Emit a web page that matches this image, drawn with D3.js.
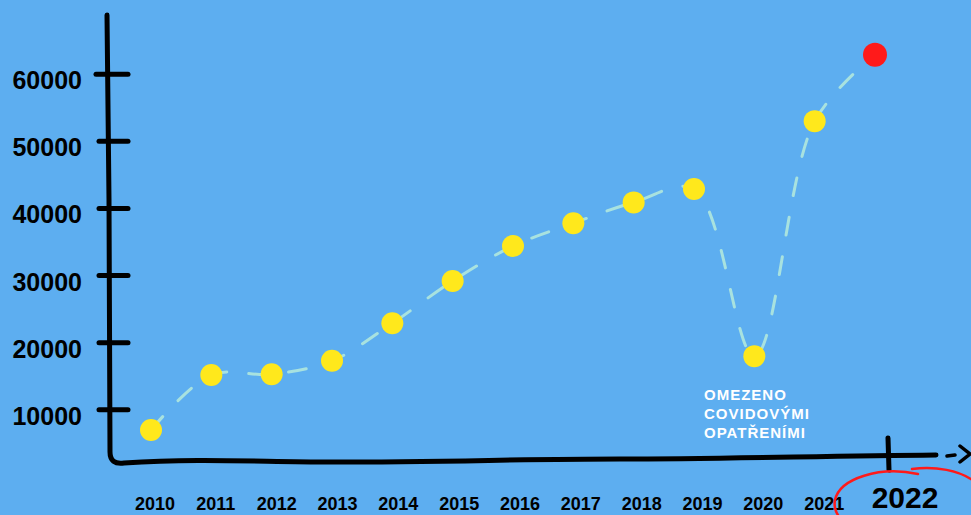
<!DOCTYPE html>
<html><head><meta charset="utf-8">
<script src="https://cdn.jsdelivr.net/npm/d3@7"></script>
<style>
html,body{margin:0;padding:0;background:#5daef0;overflow:hidden;}
svg{display:block;}
</style></head>
<body><div id="chart"></div>
<script>
const years = ["2010","2011","2012","2013","2014","2015","2016","2017","2018","2019","2020","2021","2022"];
const values = [7000,15200,15300,17300,22900,29200,34400,37800,40900,42900,18000,53000,62900];
const yTicks = [10000,20000,30000,40000,50000,60000];
const noteLines = ["OMEZENO","COVIDOVÝMI","OPATŘENÍMI"];

const W = 971, H = 515;
const svg = d3.select("#chart").append("svg").attr("width", W).attr("height", H);
svg.append("rect").attr("width", W).attr("height", H).attr("fill", "#5daef0");

const x = d3.scalePoint().domain(years).range([151, 875]);
const y = d3.scaleLinear().domain([0, 70000]).range([477, 7]);

const font = "'Liberation Sans Narrow','Liberation Sans',Arial,sans-serif";

// axes (hand-drawn look)
svg.append("path")
  .attr("d", "M107,15 L109,200 L110,452 Q110,465 124,463 C200,458 260,462 330,462 C450,462 520,459 620,459 C720,459 820,456 936,455")
  .attr("fill", "none").attr("stroke", "#000").attr("stroke-width", 5)
  .attr("stroke-linecap", "round").attr("stroke-linejoin", "round");
// end tick at 2022
svg.append("path").attr("d", "M888,438 L889,470")
  .attr("stroke", "#000").attr("stroke-width", 5).attr("stroke-linecap", "round");
// dashed arrow
svg.append("path").attr("d", "M947,456 L955,455 M960,446 L970,454 L960,462")
  .attr("fill", "none").attr("stroke", "#000").attr("stroke-width", 3.5)
  .attr("stroke-linecap", "round").attr("stroke-linejoin", "round");

// y ticks
const tg = svg.append("g");
tg.selectAll("line").data(yTicks).enter().append("line")
  .attr("x1", d => d === 60000 ? 96 : 99).attr("x2", 128)
  .attr("y1", d => y(d)).attr("y2", d => y(d))
  .attr("stroke", "#000").attr("stroke-width", 5).attr("stroke-linecap", "round");
tg.selectAll("text").data(yTicks).enter().append("text")
  .attr("x", 82).attr("y", d => y(d) + 15)
  .attr("text-anchor", "end")
  .attr("font-family", font).attr("font-size", 25).attr("font-weight", "bold")
  .attr("fill", "#000").text(d => d);

// x labels
svg.append("g").selectAll("text").data(years).enter().append("text")
  .attr("x", (d, i) => d === "2022" ? x(d) + 30 : x(d) + 4 + Math.min(i, 11) * 0.5)
  .attr("y", d => d === "2022" ? 508 : 510)
  .attr("text-anchor", "middle")
  .attr("font-family", font)
  .attr("font-size", d => d === "2022" ? 30 : 18)
  .attr("font-weight", "bold")
  .attr("fill", "#000").text(d => d);

// red ellipse around 2022
svg.append("path")
  .attr("d", "M918,474 C880,466 840,478 835,500 C833,510 838,515 840,518 M912,469 C935,466 960,470 975,482")
  .attr("fill", "none").attr("stroke", "#ff1a1a").attr("stroke-width", 2.5).attr("stroke-linecap", "round");

// dashed line
svg.append("path")
  .datum(years.map((d, i) => ({year: d, v: values[i]})))
  .attr("d", d3.line().x(d => x(d.year)).y(d => y(d.v)).curve(d3.curveCatmullRom.alpha(0.5)))
  .attr("fill", "none").attr("stroke", "#a8e2df").attr("stroke-width", 3)
  .attr("stroke-dasharray", "18,22").attr("stroke-linecap", "round");

// points
svg.append("g").selectAll("circle").data(years).enter().append("circle")
  .attr("cx", d => x(d)).attr("cy", (d, i) => y(values[i]))
  .attr("r", (d, i) => i === years.length - 1 ? 12 : 11)
  .attr("fill", (d, i) => i === years.length - 1 ? "#ff1a1a" : "#ffe81c");

// annotation
svg.append("g").selectAll("text").data(noteLines).enter().append("text")
  .attr("x", 704).attr("y", (d, i) => 400 + i * 19)
  .attr("font-family", font).attr("font-size", 15).attr("font-weight", "bold")
  .attr("letter-spacing", 1)
  .attr("fill", "#fff").text(d => d);
</script>
</body></html>
